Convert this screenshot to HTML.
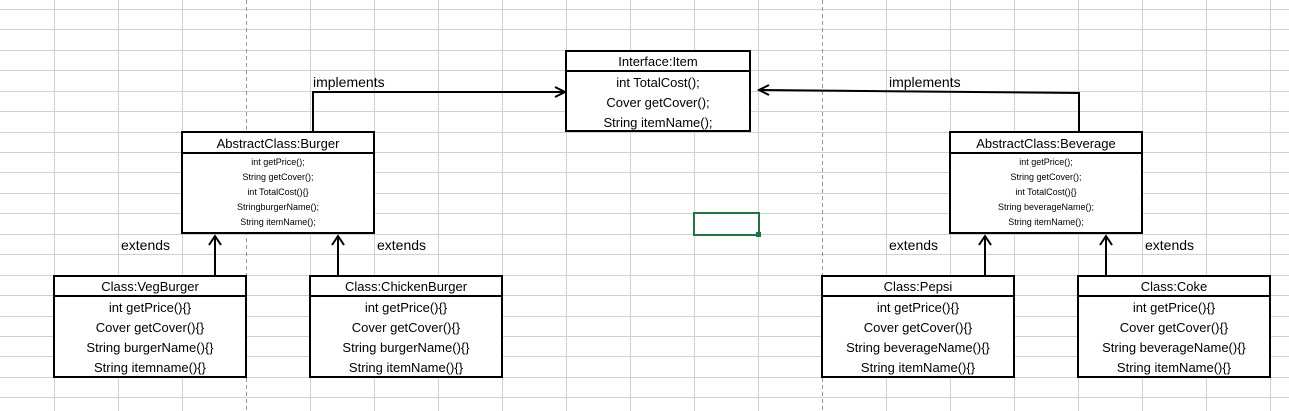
<!DOCTYPE html>
<html><head><meta charset="utf-8"><style>
html,body{margin:0;padding:0;background:#fff;}
svg{display:block;}
text{font-family:"Liberation Sans",sans-serif;fill:#000;}
</style></head><body>
<svg width="1289" height="411" viewBox="0 0 1289 411" xmlns="http://www.w3.org/2000/svg" shape-rendering="crispEdges">
<g stroke="#d0d0d0" stroke-width="1">
<line x1="54.5" y1="0" x2="54.5" y2="411"/><line x1="118.5" y1="0" x2="118.5" y2="411"/><line x1="182.5" y1="0" x2="182.5" y2="411"/><line x1="310.5" y1="0" x2="310.5" y2="411"/><line x1="374.5" y1="0" x2="374.5" y2="411"/><line x1="438.5" y1="0" x2="438.5" y2="411"/><line x1="502.5" y1="0" x2="502.5" y2="411"/><line x1="566.5" y1="0" x2="566.5" y2="411"/><line x1="630.5" y1="0" x2="630.5" y2="411"/><line x1="694.5" y1="0" x2="694.5" y2="411"/><line x1="758.5" y1="0" x2="758.5" y2="411"/><line x1="886.5" y1="0" x2="886.5" y2="411"/><line x1="950.5" y1="0" x2="950.5" y2="411"/><line x1="1014.5" y1="0" x2="1014.5" y2="411"/><line x1="1078.5" y1="0" x2="1078.5" y2="411"/><line x1="1142.5" y1="0" x2="1142.5" y2="411"/><line x1="1206.5" y1="0" x2="1206.5" y2="411"/><line x1="1270.5" y1="0" x2="1270.5" y2="411"/>
<line x1="0" y1="9.5" x2="1289" y2="9.5"/><line x1="0" y1="29.5" x2="1289" y2="29.5"/><line x1="0" y1="50.5" x2="1289" y2="50.5"/><line x1="0" y1="70.5" x2="1289" y2="70.5"/><line x1="0" y1="91.5" x2="1289" y2="91.5"/><line x1="0" y1="111.5" x2="1289" y2="111.5"/><line x1="0" y1="132.5" x2="1289" y2="132.5"/><line x1="0" y1="152.5" x2="1289" y2="152.5"/><line x1="0" y1="172.5" x2="1289" y2="172.5"/><line x1="0" y1="193.5" x2="1289" y2="193.5"/><line x1="0" y1="213.5" x2="1289" y2="213.5"/><line x1="0" y1="234.5" x2="1289" y2="234.5"/><line x1="0" y1="254.5" x2="1289" y2="254.5"/><line x1="0" y1="275.5" x2="1289" y2="275.5"/><line x1="0" y1="295.5" x2="1289" y2="295.5"/><line x1="0" y1="316.5" x2="1289" y2="316.5"/><line x1="0" y1="336.5" x2="1289" y2="336.5"/><line x1="0" y1="356.5" x2="1289" y2="356.5"/><line x1="0" y1="377.5" x2="1289" y2="377.5"/><line x1="0" y1="397.5" x2="1289" y2="397.5"/>
</g>
<line x1="246.5" y1="0" x2="246.5" y2="411" stroke="#999" stroke-dasharray="4,3"/>
<line x1="822.5" y1="0" x2="822.5" y2="411" stroke="#999" stroke-dasharray="4,3"/>
<rect x="694" y="213" width="65" height="22" fill="none" stroke="#217346" stroke-width="2"/>
<rect x="756" y="232" width="5" height="5" fill="#217346"/>

<g stroke="#000" stroke-width="2" fill="none" shape-rendering="auto">
<polyline points="313,132 313,92 564,92"/>
<polyline points="555,87 565,92 555,97"/>
<polyline points="1079,132 1079,93 760,90"/>
<polyline points="769,85 759,90 769,95"/>
<line x1="215" y1="276" x2="215" y2="237"/><polyline points="209,245 215,236 221,245"/>
<line x1="338" y1="276" x2="338" y2="237"/><polyline points="332,245 338,236 344,245"/>
<line x1="985" y1="276" x2="985" y2="237"/><polyline points="979,245 985,236 991,245"/>
<line x1="1106" y1="276" x2="1106" y2="237"/><polyline points="1100,245 1106,236 1112,245"/>
</g>

<g font-size="14">
<text x="313" y="87">implements</text>
<text x="889" y="87">implements</text>
<text x="121" y="250">extends</text>
<text x="377" y="250">extends</text>
<text x="889" y="250">extends</text>
<text x="1145" y="250">extends</text>
</g>

<rect x="566" y="51" width="184" height="80" fill="#fff" stroke="#000" stroke-width="2"/>
<line x1="566" y1="71" x2="750" y2="71" stroke="#000" stroke-width="2"/>
<g font-size="13" text-anchor="middle">
<text x="658" y="66">Interface:Item</text>
<text x="658" y="87">int TotalCost();</text>
<text x="658" y="107">Cover getCover();</text>
<text x="658" y="127">String itemName();</text>
</g>

<rect x="182" y="132" width="192" height="101" fill="#fff" stroke="#000" stroke-width="2"/>
<line x1="182" y1="153" x2="374" y2="153" stroke="#000" stroke-width="2"/>
<g text-anchor="middle">
<text x="278" y="148" font-size="13">AbstractClass:Burger</text>
<g font-size="9">
<text x="278" y="165">int getPrice();</text>
<text x="278" y="180">String getCover();</text>
<text x="278" y="195">int TotalCost(){}</text>
<text x="278" y="210">StringburgerName();</text>
<text x="278" y="225">String itemName();</text>
</g>
</g>

<rect x="950" y="132" width="192" height="101" fill="#fff" stroke="#000" stroke-width="2"/>
<line x1="950" y1="153" x2="1142" y2="153" stroke="#000" stroke-width="2"/>
<g text-anchor="middle">
<text x="1046" y="148" font-size="13">AbstractClass:Beverage</text>
<g font-size="9">
<text x="1046" y="165">int getPrice();</text>
<text x="1046" y="180">String getCover();</text>
<text x="1046" y="195">int TotalCost(){}</text>
<text x="1046" y="210">String beverageName();</text>
<text x="1046" y="225">String itemName();</text>
</g>
</g>

<g font-size="13" text-anchor="middle">
<rect x="54" y="276" width="192" height="101" fill="#fff" stroke="#000" stroke-width="2"/>
<line x1="54" y1="296" x2="246" y2="296" stroke="#000" stroke-width="2"/>
<text x="150" y="291">Class:VegBurger</text>
<text x="150" y="312">int getPrice(){}</text>
<text x="150" y="332">Cover getCover(){}</text>
<text x="150" y="352">String burgerName(){}</text>
<text x="150" y="372">String itemname(){}</text>

<rect x="310" y="276" width="192" height="101" fill="#fff" stroke="#000" stroke-width="2"/>
<line x1="310" y1="296" x2="502" y2="296" stroke="#000" stroke-width="2"/>
<text x="406" y="291">Class:ChickenBurger</text>
<text x="406" y="312">int getPrice(){}</text>
<text x="406" y="332">Cover getCover(){}</text>
<text x="406" y="352">String burgerName(){}</text>
<text x="406" y="372">String itemName(){}</text>

<rect x="822" y="276" width="192" height="101" fill="#fff" stroke="#000" stroke-width="2"/>
<line x1="822" y1="296" x2="1014" y2="296" stroke="#000" stroke-width="2"/>
<text x="918" y="291">Class:Pepsi</text>
<text x="918" y="312">int getPrice(){}</text>
<text x="918" y="332">Cover getCover(){}</text>
<text x="918" y="352">String beverageName(){}</text>
<text x="918" y="372">String itemName(){}</text>

<rect x="1078" y="276" width="192" height="101" fill="#fff" stroke="#000" stroke-width="2"/>
<line x1="1078" y1="296" x2="1270" y2="296" stroke="#000" stroke-width="2"/>
<text x="1174" y="291">Class:Coke</text>
<text x="1174" y="312">int getPrice(){}</text>
<text x="1174" y="332">Cover getCover(){}</text>
<text x="1174" y="352">String beverageName(){}</text>
<text x="1174" y="372">String itemName(){}</text>
</g>
</svg>
</body></html>
